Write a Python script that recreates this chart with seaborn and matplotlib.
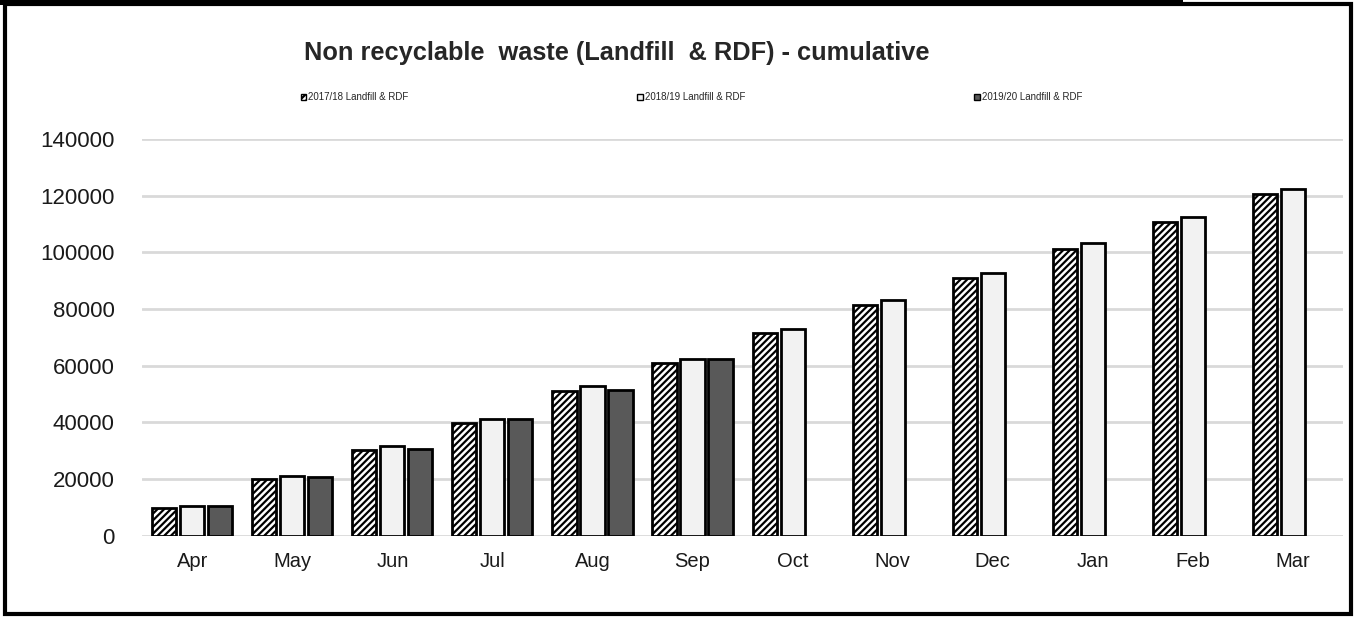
import matplotlib
matplotlib.use("Agg")
import matplotlib.pyplot as plt
from matplotlib.patches import Rectangle
import numpy as np
import pandas as pd
import seaborn as sns

sns.set_theme(style="white")
plt.rcParams["font.family"] = ["Liberation Sans", "DejaVu Sans"]

months = ["Apr", "May", "Jun", "Jul", "Aug", "Sep", "Oct", "Nov", "Dec", "Jan", "Feb", "Mar"]
series_names = ["2017/18 Landfill & RDF", "2018/19 Landfill & RDF", "2019/20 Landfill & RDF"]
y2017 = [9800, 20100, 30300, 39900, 51100, 61000, 71600, 81500, 91000, 101200, 110700, 120600]
y2018 = [10600, 21200, 31700, 41300, 52900, 62400, 73000, 83200, 92700, 103300, 112500, 122400]
y2019 = [10500, 20800, 30700, 41300, 51500, 62400, np.nan, np.nan, np.nan, np.nan, np.nan, np.nan]

colors = ["#ffffff", "#f2f2f2", "#595959"]
hatches = ["/////", "", ""]

df = pd.DataFrame({
    "month": months * 3,
    "series": [series_names[0]] * 12 + [series_names[1]] * 12 + [series_names[2]] * 12,
    "value": y2017 + y2018 + y2019,
})

plt.rcParams["hatch.linewidth"] = 1.6
fig = plt.figure(figsize=(13.55, 6.18), dpi=100)
ax = fig.add_axes([0.105, 0.133, 0.886, 0.642])

sns.barplot(data=df, x="month", y="value", hue="series", order=months,
            hue_order=series_names, palette=colors, width=0.84, gap=0.14,
            edgecolor="black", linewidth=2, ax=ax, legend=False)

for cont, h in zip(ax.containers, hatches):
    for bar in cont:
        bar.set_hatch(h)

ax.set_ylim(0, 140000)
ax.set_yticks(range(0, 140001, 20000))
ax.set_xlim(-0.5, 11.5)
ax.yaxis.grid(True, color="#d9d9d9", linewidth=2)
ax.set_axisbelow(True)
for s in ["top", "right", "left", "bottom"]:
    ax.spines[s].set_visible(False)
ax.tick_params(axis="y", length=0, pad=20, labelsize=16, labelcolor="#1a1a1a")
ax.tick_params(axis="x", length=0, pad=12, labelsize=14.5, labelcolor="#1a1a1a")
ax.set_xlabel("")
ax.set_ylabel("")

fig.text(0.455, 0.914, "Non recyclable  waste (Landfill  & RDF) - cumulative",
         ha="center", va="center", fontsize=18.3, fontweight="bold")

handles = [Rectangle((0, 0), 1, 1, facecolor=c, edgecolor="black", hatch=h, linewidth=1)
           for c, h in zip(colors, hatches)]
fig.legend(handles, series_names, loc="center left", bbox_to_anchor=(0.219, 0.843),
           ncol=3, frameon=False, fontsize=7, handlelength=0.6, handleheight=0.6,
           handletextpad=0.2, columnspacing=23.5, borderaxespad=0)

# outer frame of the original screenshot
fig.patches.append(Rectangle((0.004, 0.006), 0.993, 0.988, transform=fig.transFigure,
                             fill=False, edgecolor="black", linewidth=3))
fig.patches.append(Rectangle((0, 0.992), 0.873, 0.008, transform=fig.transFigure,
                             facecolor="black", edgecolor="none"))

fig.savefig("out.png", dpi=100)
